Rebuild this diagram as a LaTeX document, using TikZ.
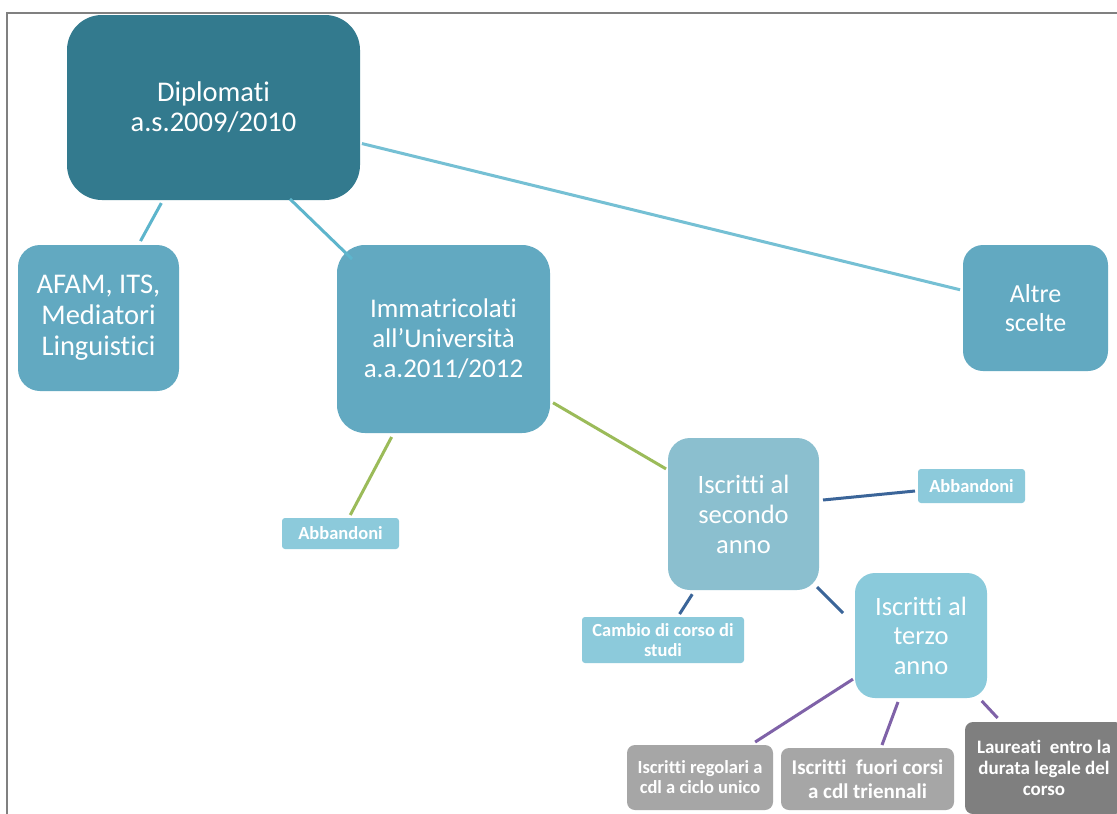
\documentclass[tikz,border=0pt]{standalone}
\usepackage{fontspec}
\setmainfont{Carlito}[Ligatures={NoCommon}]
\usetikzlibrary{calc}
\definecolor{dipC}{RGB}{51,122,142}
\definecolor{midC}{RGB}{98,169,193}
\definecolor{secC}{RGB}{139,191,207}
\definecolor{terC}{RGB}{138,202,219}
\definecolor{lblC}{RGB}{140,202,219}
\definecolor{grayC}{RGB}{166,166,166}
\definecolor{dgrayC}{RGB}{127,127,127}
\definecolor{lnBlue}{RGB}{93,181,204}
\definecolor{lnGreen}{RGB}{155,187,89}
\definecolor{lnNavy}{RGB}{59,101,153}
\definecolor{lnPurple}{RGB}{127,98,168}
\definecolor{frameC}{RGB}{128,128,128}
\tikzset{
  box/.style={inner sep=0pt, outer sep=0pt, align=center, text=white},
  bigbox/.style={box, rounded corners=#1},
  lbl/.style={box, fill=lblC, rounded corners=3pt, font=\bfseries\fontsize{18.5}{20}\selectfont},
  graybox/.style={box, rounded corners=8pt, font=\bfseries},
  conn/.style={line width=3pt},
}
\begin{document}
\begin{tikzpicture}[x=1pt,y=-1pt]
\useasboundingbox (0,0) rectangle (1117,814);
\clip (0,0) rectangle (1117,814);
\fill[white] (0,0) rectangle (1117,814);
% frame
\draw[frameC, line width=2.2pt] (7,814) -- (7,13) -- (1117,13);
% nodes
\node[bigbox=35pt, fill=dipC, minimum width=293pt, minimum height=185pt,
      font=\fontsize{28.5}{30}\selectfont] (dip) at (213.5,107.5) {Diplomati\\a.s.2009/2010};
\node[bigbox=22pt, fill=midC, minimum width=161pt, minimum height=146pt,
      font=\fontsize{28.5}{31}\selectfont] (afam) at (98.5,318) {AFAM, ITS,\\Mediatori\\Linguistici};
\node[bigbox=28pt, fill=midC, minimum width=213pt, minimum height=188pt,
      font=\fontsize{27}{30}\selectfont] (imm) at (443.5,339) {Immatricolati\\all’Università\\a.a.2011/2012};
\node[bigbox=20pt, fill=midC, minimum width=145pt, minimum height=126pt,
      font=\fontsize{26}{29}\selectfont] (altre) at (1035.5,308) {Altre\\scelte};
\node[lbl, minimum width=117pt, minimum height=31pt] (abb1) at (340.5,533.5) {Abbandoni};
\node[bigbox=22pt, fill=secC, minimum width=151pt, minimum height=152pt,
      font=\fontsize{26.5}{30}\selectfont] (sec) at (743.5,514) {Iscritti al\\secondo\\anno};
\node[lbl, minimum width=107pt, minimum height=34pt] (abb2) at (971.5,486) {Abbandoni};
\node[lbl, minimum width=162pt, minimum height=46pt] (cambio) at (663,640) {Cambio di corso di\\studi};
\node[bigbox=20pt, fill=terC, minimum width=132pt, minimum height=125pt,
      font=\fontsize{26.5}{29.5}\selectfont] (terzo) at (921,635.5) {Iscritti al\\terzo\\anno};
\node[graybox, fill=grayC, minimum width=146pt, minimum height=65pt,
      font=\bfseries\fontsize{18.5}{20}\selectfont] (reg) at (700,777.5) {Iscritti regolari a\\cdl a ciclo unico};
\node[graybox, fill=grayC, minimum width=173pt, minimum height=62pt,
      font=\bfseries\fontsize{21}{24}\selectfont] (fuori) at (867.5,779) {Iscritti~ fuori corsi\\a cdl triennali};
\node[graybox, fill=dgrayC, minimum width=158pt, minimum height=92pt,
      font=\bfseries\fontsize{19}{21}\selectfont] (laur) at (1044,768) {Laureati~ entro la\\durata legale del\\corso};
% connectors
\draw[conn, lnBlue, shorten <=3.5pt, shorten >=4.5pt] (dip) -- (afam);
\draw[conn, lnBlue] ($(dip.center)+(76.5,91.5)$) -- ($(imm.center)+(-91.5,-80)$);
\draw[conn, lnBlue!85!white, shorten <=2pt, shorten >=3pt] (dip) -- (altre);
\draw[conn, lnGreen, shorten <=4.5pt, shorten >=3.4pt] (imm) -- (abb1);
\draw[conn, lnGreen, shorten <=3.5pt, shorten >=2.3pt] (imm) -- (sec);
\draw[conn, lnNavy] ($(sec.center)+(79.5,-14)$) -- ($(abb2.center)+(-56.5,5)$);
\draw[conn, lnNavy, shorten <=5pt, shorten >=3.5pt] (sec) -- (cambio);
\draw[conn, lnNavy] ($(sec.center)+(73.5,73)$) -- ($(terzo.center)+(-78,-22.5)$);
\draw[conn, lnPurple, shorten <=2.4pt, shorten >=5.5pt] (terzo) -- (reg);
\draw[conn, lnPurple] ($(terzo.center)+(-23,66.5)$) -- ($(fuori.center)+(14.5,-34)$);
\draw[conn, lnPurple, shorten <=4pt, shorten >=5.5pt] (terzo) -- (laur);
\end{tikzpicture}
\end{document}
